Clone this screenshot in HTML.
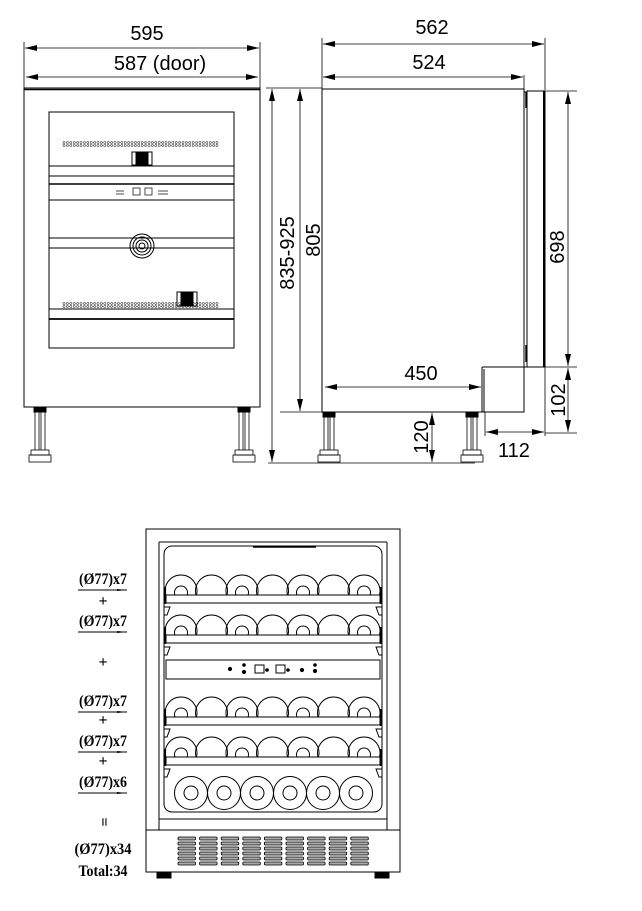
<!DOCTYPE html>
<html><head><meta charset="utf-8"><style>
html,body{margin:0;padding:0;background:#fff;}
svg{display:block;}
text{font-family:"Liberation Sans",sans-serif;fill:#000;}
.lb{font-family:"Liberation Serif",serif;font-weight:bold;font-size:16px;}
</style></head><body>
<svg id="s" width="642" height="911" viewBox="0 0 642 911" xmlns="http://www.w3.org/2000/svg" fill="none" stroke="#000" stroke-width="1">
<defs>
<marker id="a" markerWidth="12" markerHeight="6" refX="12" refY="3" orient="auto-start-reverse" markerUnits="userSpaceOnUse"><path d="M0,0 L12,3 L0,6 Z" fill="#000" stroke="none"/></marker>
</defs>
<g id="g"></g>
<g stroke-width="0.8">
<line x1="24" y1="42" x2="24" y2="88"/><line x1="260" y1="42" x2="260" y2="88"/>
<line x1="25" y1="48" x2="259" y2="48" marker-start="url(#a)" marker-end="url(#a)"/>
<line x1="26" y1="77" x2="258" y2="77" marker-start="url(#a)" marker-end="url(#a)"/>
<line x1="266" y1="88" x2="322" y2="88"/>
<line x1="280" y1="412" x2="322" y2="412"/>
<line x1="268" y1="463" x2="475" y2="463"/>
<line x1="272" y1="89" x2="272" y2="462" marker-start="url(#a)" marker-end="url(#a)"/>
<line x1="300" y1="89" x2="300" y2="411" marker-start="url(#a)" marker-end="url(#a)"/>
</g>
<text x="147" y="40" font-size="20" text-anchor="middle" stroke="none">595</text>
<text x="160" y="70" font-size="20" text-anchor="middle" stroke="none">587 (door)</text>
<text transform="translate(294,253) rotate(-90)" font-size="20" text-anchor="middle" stroke="none">835-925</text>
<text transform="translate(320,240) rotate(-90)" font-size="20" text-anchor="middle" stroke="none">805</text>
<rect x="24" y="88" width="236" height="319"/>
<line x1="24" y1="89.5" x2="260" y2="89.5" stroke-width="1.5"/>
<rect x="49" y="112" width="185" height="236"/>
<line x1="49" y1="166" x2="234" y2="166"/><line x1="49" y1="176" x2="234" y2="176"/>
<line x1="49" y1="184" x2="234" y2="184" stroke-width="1.6"/>
<line x1="49" y1="200" x2="234" y2="200"/>
<line x1="49" y1="238" x2="234" y2="238"/><line x1="49" y1="248" x2="234" y2="248"/>
<line x1="49" y1="309" x2="234" y2="309"/>
<line x1="49" y1="319" x2="234" y2="319" stroke-width="1.8"/>
<rect x="132" y="152" width="20" height="13" stroke-width="1"/><rect x="136" y="153" width="12" height="11" fill="#000"/>
<rect x="177" y="292" width="20" height="14"/><rect x="181" y="293" width="12" height="12" fill="#000"/>
<circle cx="142" cy="246" r="12"/><circle cx="142" cy="246" r="9"/><circle cx="142" cy="246" r="6"/><circle cx="142" cy="246" r="3"/>
<g stroke-width="0.7"><rect x="133" y="188" width="7" height="7"/><rect x="145" y="188" width="7" height="7"/>
<line x1="116" y1="191" x2="124" y2="191"/><line x1="116" y1="194" x2="124" y2="194"/><line x1="158" y1="191" x2="168" y2="191"/><line x1="158" y1="194" x2="168" y2="194"/></g>
<g stroke-width="0.8">
<line x1="322" y1="38" x2="322" y2="89"/><line x1="545" y1="38" x2="545" y2="90"/><line x1="524" y1="75" x2="524" y2="89"/>
<line x1="323" y1="44" x2="544" y2="44" marker-start="url(#a)" marker-end="url(#a)"/>
<line x1="323" y1="77" x2="523" y2="77" marker-start="url(#a)" marker-end="url(#a)"/>
<line x1="545" y1="91" x2="577" y2="91"/><line x1="545" y1="367" x2="577" y2="367"/><line x1="545" y1="433" x2="577" y2="433"/>
<line x1="568" y1="92" x2="568" y2="366" marker-start="url(#a)" marker-end="url(#a)"/>
<line x1="568" y1="368" x2="568" y2="432" marker-start="url(#a)" marker-end="url(#a)"/>
<line x1="325" y1="387" x2="481" y2="387" marker-start="url(#a)" marker-end="url(#a)"/>
<line x1="485" y1="412" x2="485" y2="436"/><line x1="545" y1="367" x2="545" y2="436"/>
<line x1="486" y1="432" x2="544" y2="432" marker-start="url(#a)" marker-end="url(#a)"/>
<line x1="432" y1="413" x2="432" y2="462" marker-start="url(#a)" marker-end="url(#a)"/>
</g>
<text x="432" y="34" font-size="20" text-anchor="middle" stroke="none">562</text>
<text x="429" y="69" font-size="20" text-anchor="middle" stroke="none">524</text>
<text x="421" y="380" font-size="20" text-anchor="middle" stroke="none">450</text>
<text transform="translate(564,247) rotate(-90)" font-size="20" text-anchor="middle" stroke="none">698</text>
<text transform="translate(565,400) rotate(-90)" font-size="20" text-anchor="middle" stroke="none">102</text>
<text transform="translate(428,437) rotate(-90)" font-size="20" text-anchor="middle" stroke="none">120</text>
<text x="514" y="457" font-size="20" text-anchor="middle" stroke="none">112</text>
<rect x="322" y="89" width="202" height="323"/>
<line x1="524" y1="92" x2="527" y2="92"/>
<rect x="527" y="91" width="18" height="276"/>
<line x1="544" y1="91" x2="544" y2="367" stroke-width="2"/>
<line x1="526" y1="92" x2="526" y2="108" stroke-width="1.4"/>
<line x1="526" y1="345" x2="526" y2="362" stroke-width="1.4"/>
<path d="M482,367 H545 M482,367 V412 M484,369 V412"/>
<rect x="146" y="529" width="254" height="343"/>
<line x1="159" y1="542" x2="159" y2="830"/><line x1="387" y1="542" x2="387" y2="830"/>
<line x1="159" y1="542" x2="387" y2="542"/>
<rect x="164" y="546" width="218" height="266" rx="8"/>
<line x1="253" y1="547" x2="316" y2="547" stroke-width="1.5"/>
<line x1="159" y1="819" x2="387" y2="819"/>
<line x1="146" y1="830" x2="400" y2="830"/>
<rect x="157" y="872" width="14" height="6" fill="#000"/>
<rect x="375" y="872" width="14" height="6" fill="#000"/>
<rect x="166" y="660" width="214" height="19"/>
</svg>
<script>
var g=document.getElementById('g'),h='';
function L(x1,y1,x2,y2,w){h+='<line x1="'+x1+'" y1="'+y1+'" x2="'+x2+'" y2="'+y2+'"'+(w?' stroke-width="'+w+'"':'')+'/>';}
for(var i=0;i<46;i++){var x=64+i*3.4;[142.5,145.5,303.5,306.5].forEach(function(y){h+='<circle cx="'+x+'" cy="'+y+'" r="1.1" stroke-width="0.5"/>';});}
[[34,407],[238,407],[323,412],[466,412]].forEach(function(p){var x=p[0];
h+='<rect x="'+x+'" y="'+p[1]+'" width="12" height="5" fill="#000"/>';
L(x+1,p[1]+5,x+1,450,0.8);L(x+5,p[1]+5,x+5,450,0.8);L(x+7,p[1]+5,x+7,450,0.8);L(x+11,p[1]+5,x+11,450,0.8);
h+='<rect x="'+(x-3)+'" y="450" width="18" height="5" stroke-width="0.8"/><rect x="'+(x-5)+'" y="455" width="22" height="7" stroke-width="0.8"/>';});
function row(topC,shelfY){for(var i=0;i<7;i++){var cx=181+i*30.5;
var dy=shelfY-topC, dx=Math.sqrt(16*16-dy*dy);
h+='<path d="M'+(cx-dx)+','+shelfY+' A16,16 0 1,1 '+(cx+dx)+','+shelfY+'"/>';
if(i%2==0)h+='<path d="M'+(cx-6)+','+shelfY+' A6.5,6.5 0 1,1 '+(cx+6)+','+shelfY+'"/>';}
h+='<rect x="166" y="'+shelfY+'" width="214" height="8"/>';
L(165,shelfY-8,165,shelfY+9,2.2);L(381,shelfY-8,381,shelfY+9,2.2);
h+='<path d="M164,'+(shelfY+12)+' h6 l-3,8 h-3 M382,'+(shelfY+12)+' h-6 l3,8 h3"/>';}
row(591,595);row(631,635);row(713,717);row(753,757);
for(var i=0;i<6;i++){var cx=191+i*33;h+='<circle cx="'+cx+'" cy="793" r="16.5"/><circle cx="'+cx+'" cy="793" r="7"/>';}
h+='<circle cx="230" cy="669" r="1.6" fill="#000"/><circle cx="244" cy="665" r="1.3" fill="#000"/><circle cx="244" cy="672" r="1.6" fill="#000"/>';
h+='<rect x="255" y="665" width="9" height="8"/><rect x="276" y="665" width="9" height="8"/><circle cx="267" cy="670" r="1.3" fill="#000"/><circle cx="288" cy="670" r="1.3" fill="#000"/>';
h+='<circle cx="302" cy="670" r="1.6" fill="#000"/><circle cx="315" cy="665" r="1.3" fill="#000"/><circle cx="315" cy="671" r="1.6" fill="#000"/>';
for(var c=0;c<9;c++)for(var r=0;r<6;r++){h+='<rect x="'+(178+c*21.6)+'" y="'+(837+r*5)+'" width="17.5" height="3" rx="1" fill="#aaa" stroke-width="0.8"/>';}
var labs=[[584,'(Ø77)x7',1,48],[606,'+',0],[626,'(Ø77)x7',1,48],[667,'+',0],[706,'(Ø77)x7',1,48],[725,'+',0],[746,'(Ø77)x7',1,48],[766,'+',0],[787,'(Ø77)x6',1,48],[826,'=',0],[854,'(Ø77)x34',0,57],[876,'Total:34',0,49]];
labs.forEach(function(l){var tl=l[3]?' textLength="'+l[3]+'" lengthAdjust="spacingAndGlyphs"':'';
h+='<text class="lb" x="103" y="'+l[0]+'" text-anchor="middle" stroke="none"'+tl+(l[1]=='='?' transform="rotate(90 103 '+(l[0]-4)+')"':'')+'>'+l[1]+'</text>';
if(l[2]){L(78,l[0]+6,127,l[0]+6,0.9);h+='<path d="M117,'+(l[0]+5)+' L127,'+(l[0]+6)+' L117,'+(l[0]+7)+'Z" fill="#000" stroke="none"/>';}});
g.innerHTML=h;
</script>
</body></html>
